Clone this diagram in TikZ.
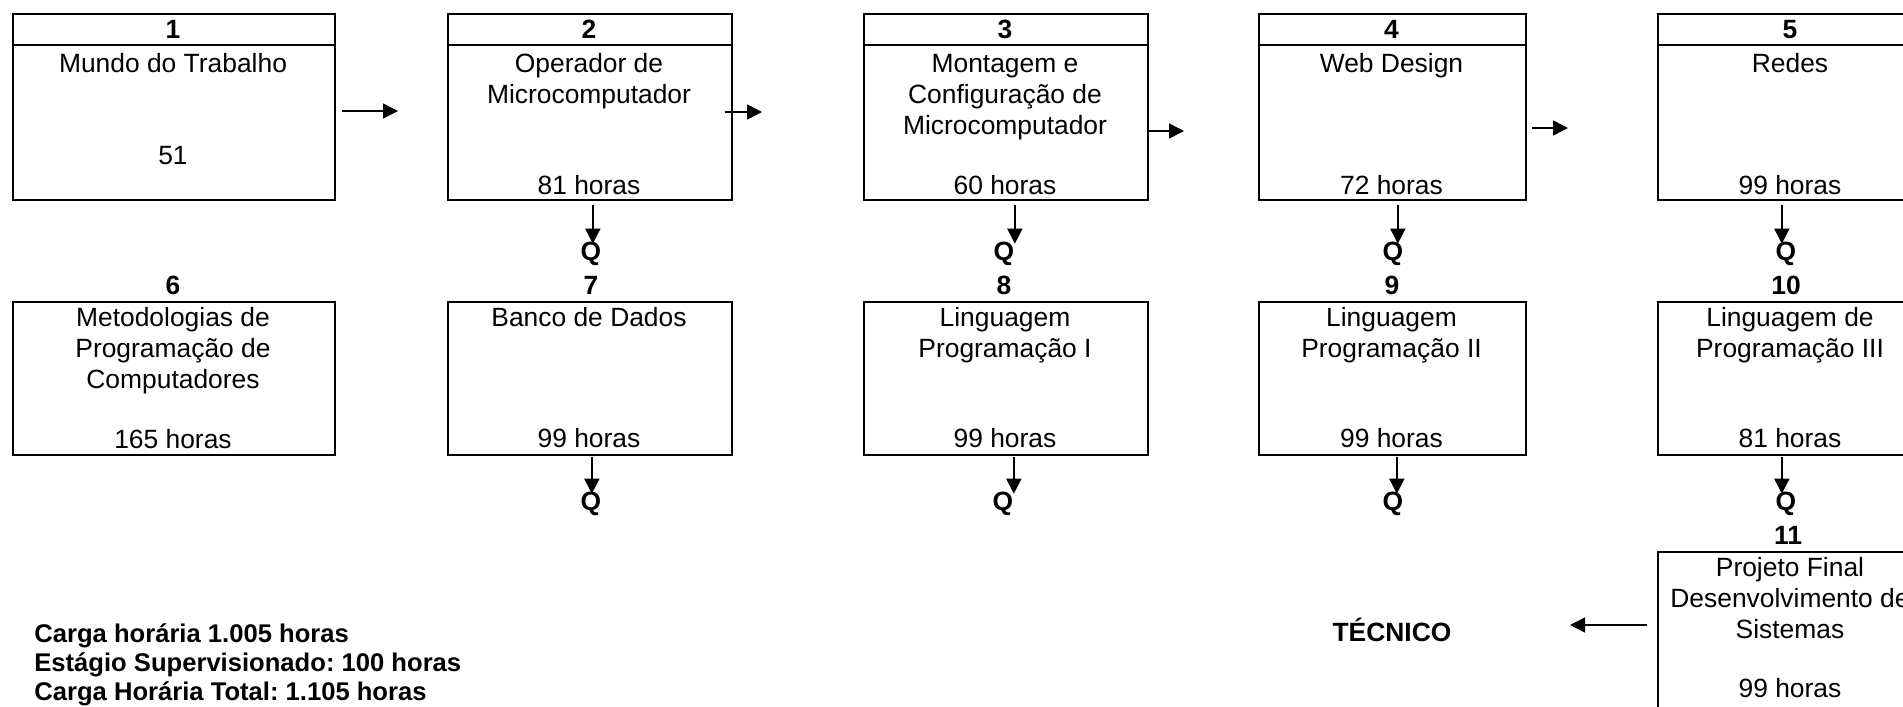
\documentclass[tikz,border=0pt]{standalone}
\usepackage{fontspec}
\setmainfont{Liberation Sans}
\frenchspacing
\usetikzlibrary{arrows.meta,calc}
\begin{document}
\begin{tikzpicture}[x=0.5pt,y=-0.5pt,
  box/.style={draw,line width=0.85pt,anchor=north west,inner sep=0pt,minimum width=#1},
  rowa/.style={minimum height=93pt},
  rowb/.style={minimum height=76.5pt},
  txt/.style={anchor=base,inner sep=0pt,align=center,font=\fontsize{13.2}{15.5}\selectfont},
  num/.style={anchor=base,inner sep=0pt,font=\fontsize{13.2}{15.5}\selectfont\bfseries},
  arr/.style={line width=0.75pt,-{Triangle[length=7.5pt,width=7.5pt]}},
  hdr/.style={line width=0.85pt}]
\useasboundingbox (0,0) rectangle (1903,707);
\fill[white] (0,0) rectangle (1903,707);
% row 1 boxes
\node[box=161pt,rowa] (b1) at (12,13) {};
\node[box=142pt,rowa] (b2) at (447,13) {};
\node[box=142pt,rowa] (b3) at (863,13) {};
\node[box=133.5pt,rowa] (b4) at (1258,13) {};
\node[box=133pt,rowa] (b5) at (1657,13) {};
\foreach \b in {b1,b2,b3,b4,b5}
  \draw[hdr] ([yshift=-16pt]\b.north west) -- ([yshift=-16pt]\b.north east);
% row 2 boxes
\node[box=161pt,rowb] (b6) at (12,301) {};
\node[box=142pt,rowb] (b7) at (447,301) {};
\node[box=142pt,rowb] (b8) at (863,301) {};
\node[box=133.5pt,rowb] (b9) at (1258,301) {};
\node[box=133pt,rowb] (b10) at (1657,301) {};
\node[box=133pt,minimum height=90pt] (b11) at (1657,551) {};
% numbers
\node[num] (n1) at (173,38.5) {1};
\node[num] (n2) at (589,38.5) {2};
\node[num] (n3) at (1005,38.5) {3};
\node[num] (n4) at (1391.5,38.5) {4};
\node[num] (n5) at (1790,38.5) {5};
\node[num] (n6) at (173,294) {6};
\node[num] (n7) at (591,294) {7};
\node[num] (n8) at (1004,294) {8};
\node[num] (n9) at (1392,294) {9};
\node[num] (n10) at (1786,294) {10};
\node[num] (n11) at (1788,544) {11};
% Q labels
\node[num] (q2) at (591,260) {Q};
\node[num] (q3) at (1004,260) {Q};
\node[num] (q4) at (1393,260) {Q};
\node[num] (q5) at (1786,260) {Q};
\node[num] (q7) at (591,510) {Q};
\node[num] (q8) at (1003,510) {Q};
\node[num] (q9) at (1393,510) {Q};
\node[num] (q10) at (1786,510) {Q};
% box texts (multi-line nodes: base = last line baseline)
\node[txt] (t1) at (173,72) {Mundo do Trabalho};
\node[txt] (h1) at (173,164) {51};
\node[txt] (t2) at (589,103) {Operador de\\Microcomputador};
\node[txt] (h2) at (589,194) {81 horas};
\node[txt] (t3) at (1005,134) {Montagem e\\Configuração de\\Microcomputador};
\node[txt] (h3) at (1005,194) {60 horas};
\node[txt] (t4) at (1391.5,72) {Web Design};
\node[txt] (h4) at (1391.5,194) {72 horas};
\node[txt] (t5) at (1790,72) {Redes};
\node[txt] (h5) at (1790,194) {99 horas};
\node[txt] (t6) at (173,388) {Metodologias de\\Programação de\\Computadores};
\node[txt] (h6) at (173,448) {165 horas};
\node[txt] (t7) at (589,326) {Banco de Dados};
\node[txt] (h7) at (589,447) {99 horas};
\node[txt] (t8) at (1005,357) {Linguagem\\Programação I};
\node[txt] (h8) at (1005,447) {99 horas};
\node[txt] (t9) at (1391.5,357) {Linguagem\\Programação II};
\node[txt] (h9) at (1391.5,447) {99 horas};
\node[txt] (t10) at (1790,357) {Linguagem de\\Programação III};
\node[txt] (h10) at (1790,447) {81 horas};
\node[txt] (t11) at (1790,638) {Projeto Final\\Desenvolvimento de\\Sistemas};
\node[txt] (h11) at (1790,697) {99 horas};
% bottom texts
\node[anchor=base west,inner sep=0pt,align=left,font=\fontsize{12.8}{14.5}\selectfont\bfseries] (tot) at (34,700)
  {Carga horária 1.005 horas\\Estágio Supervisionado: 100 horas\\Carga Horária Total: 1.105 horas};
\node[num] (tec) at (1392,641) {TÉCNICO};
% horizontal arrows
\draw[arr] ($(b1.north east)+(6,98)$) -- ($(b2.north west)+(-49,98)$);
\draw[arr] ($(b2.north east)+(-8,99)$) -- ($(b3.north west)+(-101,99)$);
\draw[arr] ($(b3.north east)+(0,118)$) -- ($(b4.north west)+(-74,118)$);
\draw[arr] ($(b4.north east)+(5,115)$) -- ($(b5.north west)+(-89,115)$);
% down arrows row 1
\draw[arr] ($(b2.south)+(3,4)$) -- ($(b2.south)+(3,43)$);
\draw[arr] ($(b3.south)+(9,4)$) -- ($(b3.south)+(9,43)$);
\draw[arr] ($(b4.south)+(5.5,4)$) -- ($(b4.south)+(5.5,43)$);
\draw[arr] ($(b5.south)+(-9,4)$) -- ($(b5.south)+(-9,43)$);
% down arrows row 2
\draw[arr] ($(b7.south)+(2,1)$) -- ($(b7.south)+(2,38)$);
\draw[arr] ($(b8.south)+(8,1)$) -- ($(b8.south)+(8,38)$);
\draw[arr] ($(b9.south)+(4.5,1)$) -- ($(b9.south)+(4.5,38)$);
\draw[arr] ($(b10.south)+(-9,1)$) -- ($(b10.south)+(-9,38)$);
% to TECNICO
\draw[arr] ($(b11.north west)+(-10,74)$) -- ($(b11.north west)+(-87,74)$);
\end{tikzpicture}
\end{document}
